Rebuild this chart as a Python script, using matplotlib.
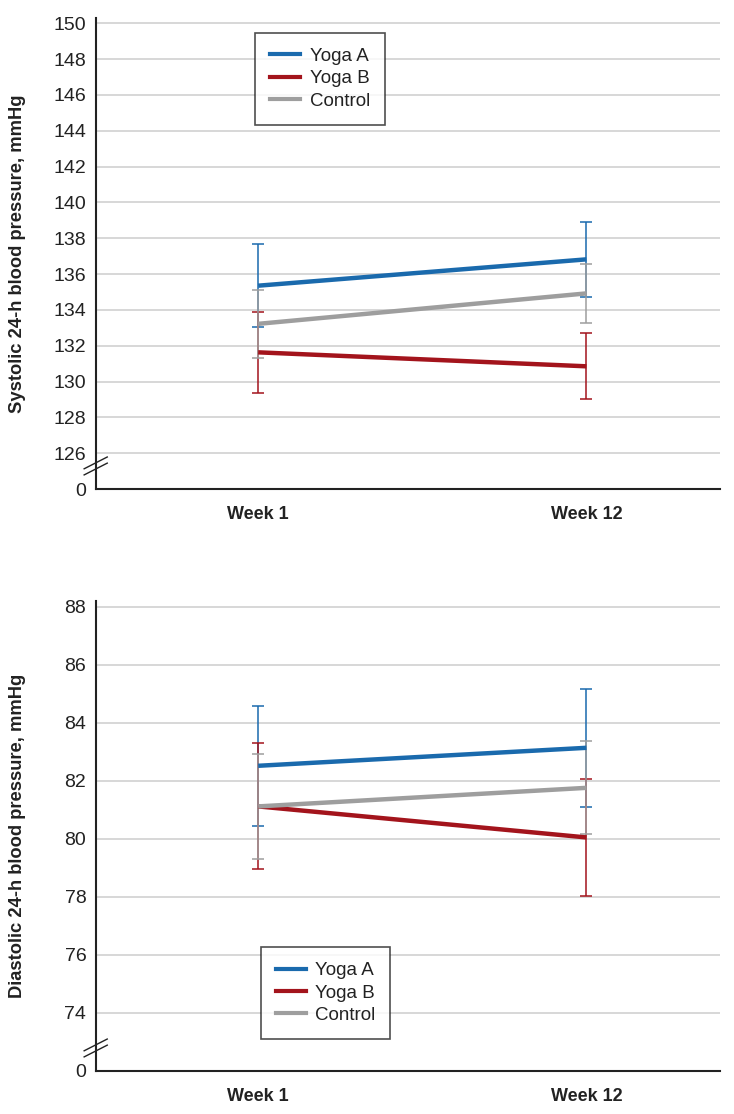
import matplotlib
matplotlib.use('Agg')
from matplotlib import pyplot as plt
from matplotlib.lines import Line2D
import numpy as np

plt.rcParams['font.family'] = ['Liberation Sans Narrow', 'Liberation Sans', 'DejaVu Sans']

weeks = ['Week 1', 'Week 12']
groups = ['Yoga A', 'Yoga B', 'Control']
colors = ['#1a6aad', '#a3141c', '#9e9e9e']

sys_mean = [[135.35, 136.82], [131.63, 130.85], [133.22, 134.92]]
sys_err = [[2.3, 2.1], [2.25, 1.85], [1.9, 1.65]]
sys_ticks = [124, 126, 128, 130, 132, 134, 136, 138, 140, 142, 144, 146, 148, 150]

dia_mean = [[82.52, 83.14], [81.12, 80.05], [81.12, 81.76]]
dia_err = [[2.07, 2.03], [2.17, 2.03], [1.8, 1.6]]
dia_ticks = [72, 74, 76, 78, 80, 82, 84, 86, 88]

fig = plt.figure(figsize=(7.34, 11.14), dpi=100)
ax1 = fig.add_axes([0.1308, 0.561, 0.8502, 0.423])
ax2 = fig.add_axes([0.1308, 0.0386, 0.8502, 0.4219])


def draw_panel(ax, means, errs, ticks, top, ylabel, leg_loc, leg_anchor):
    x = np.arange(len(weeks))
    for m, e, c in zip(means, errs, colors):
        ax.errorbar(x, m, yerr=e, fmt='none', ecolor=c, elinewidth=1.1,
                    capsize=4, capthick=1.1, zorder=3)
    for m, c, g in zip(means, colors, groups):
        ax.plot(x, m, color=c, lw=3.2, label=g, zorder=4, solid_capstyle='butt')

    ax.set_xlim(-0.494, 1.407)
    ax.set_ylim(ticks[0], top)
    ax.set_yticks(ticks)
    ax.set_yticklabels(['0'] + [str(t) for t in ticks[1:]])
    ax.set_xticks(x)
    ax.set_xticklabels(weeks, fontweight='bold', fontsize=13)
    ax.tick_params(axis='y', length=0, pad=7, labelsize=14, colors='#222222')
    ax.tick_params(axis='x', length=0, pad=12, colors='#222222')
    ax.yaxis.grid(True, color='#d4d4d4', lw=1.3)
    ax.set_axisbelow(True)
    for s in ['top', 'right']:
        ax.spines[s].set_visible(False)
    for s in ['left', 'bottom']:
        ax.spines[s].set_color('#222222')
        ax.spines[s].set_linewidth(1.5)
    ax.set_ylabel(ylabel, fontweight='bold', fontsize=13.2, color='#222222')
    ax.yaxis.set_label_coords(-0.112, 0.5)

    handles = [Line2D([0], [0], color=c, lw=3) for c in colors]
    leg = ax.legend(handles, groups, loc=leg_loc, bbox_to_anchor=leg_anchor,
                    fontsize=13.5, frameon=True, fancybox=False, handlelength=1.6,
                    handletextpad=0.5, labelspacing=0.28, borderpad=0.8,
                    borderaxespad=0)
    leg.get_frame().set_edgecolor('#222222')
    leg.get_frame().set_linewidth(1.2)
    for t in leg.get_texts():
        t.set_color('#222222')

    # axis break marks
    for dy in (0.0, -0.013):
        ax.plot([-0.019, 0.018], [0.043 + dy, 0.068 + dy], transform=ax.transAxes,
                color='#222222', lw=1.0, clip_on=False, zorder=6)


draw_panel(ax1, sys_mean, sys_err, sys_ticks, 150.3,
           'Systolic 24-h blood pressure, mmHg', 'upper left', (0.255, 0.968))
draw_panel(ax2, dia_mean, dia_err, dia_ticks, 88.2,
           'Diastolic 24-h blood pressure, mmHg', 'lower left', (0.264, 0.068))

fig.savefig('out.png', dpi=100)
